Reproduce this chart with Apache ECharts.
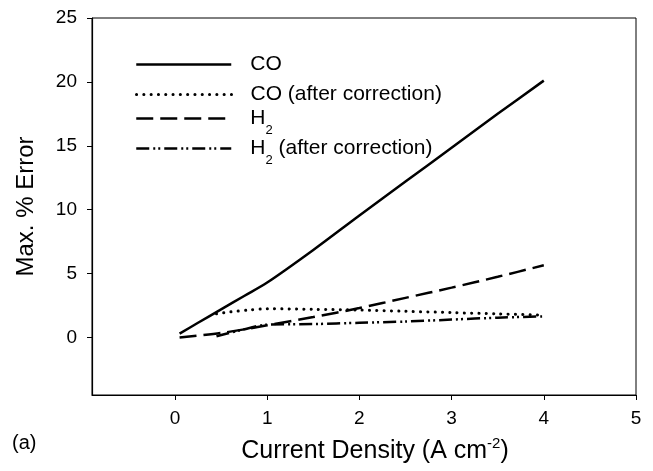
<!DOCTYPE html>
<html>
<head>
<meta charset="utf-8">
<script src="https://cdn.jsdelivr.net/npm/echarts@6/dist/echarts.min.js"></script>
<style>
  html, body { margin: 0; padding: 0; background: #fff; }
  #chart { width: 653px; height: 471px; }
</style>
</head>
<body>
<div id="chart"></div>
<script>
// Current density (A cm^-2) and maximum percentage error for each gas
const xCO = [0.05, 0.25, 0.5, 0.75, 1.0, 1.5, 2.0, 2.5, 3.0, 3.5, 4.0];
const yCO = [0.3, 1.15, 2.2, 3.25, 4.3, 6.85, 9.55, 12.2, 14.85, 17.5, 20.1];

const xCOcorr = [0.45, 0.6, 0.8, 1.0, 1.5, 2.0, 2.5, 3.0, 3.5, 4.0];
const yCOcorr = [1.85, 2.0, 2.15, 2.25, 2.2, 2.15, 2.05, 1.95, 1.85, 1.75];

const xH2 = [0.05, 0.5, 1.0, 1.5, 2.0, 2.5, 3.0, 3.5, 4.0];
const yH2 = [0.0, 0.35, 0.95, 1.6, 2.3, 3.1, 3.9, 4.75, 5.65];

const xH2corr = [0.45, 0.7, 1.0, 1.5, 2.0, 2.5, 3.0, 3.5, 4.0];
const yH2corr = [0.1, 0.55, 1.0, 1.05, 1.15, 1.25, 1.4, 1.55, 1.65];

const xTicks = [0, 1, 2, 3, 4, 5];
const yTicks = [0, 5, 10, 15, 20, 25];

const seriesNames = ['CO', 'CO (after correction)', 'H2', 'H2 (after correction)'];
const legendLabels = {
  'CO': 'CO',
  'CO (after correction)': 'CO (after correction)',
  'H2': 'H{sub|2}',
  'H2 (after correction)': 'H{sub|2} (after correction)'
};

const FONT = '"Liberation Sans", Arial, Helvetica, sans-serif';
const pairs = (xs, ys) => xs.map((x, i) => [x, ys[i]]);

const styles = [
  { width: 2.5, type: 'solid', cap: 'butt' },
  { width: 3, type: [0.1, 7.2], cap: 'round' },
  { width: 2.5, type: [17, 7], cap: 'butt' },
  { width: 2.5, type: [13, 4, 2, 3, 2, 4], cap: 'butt' }
];
const dataSets = [pairs(xCO, yCO), pairs(xCOcorr, yCOcorr), pairs(xH2, yH2), pairs(xH2corr, yH2corr)];
const legendTops = [54, 84, 100, 130];

const chart = echarts.init(document.getElementById('chart'), null, { renderer: 'canvas' });

chart.setOption({
  animation: false,
  backgroundColor: '#fff',
  textStyle: { fontFamily: FONT },
  grid: {
    left: 92, right: 17, top: 18, bottom: 72,
    show: true, borderColor: '#000', borderWidth: 1, backgroundColor: 'transparent'
  },
  legend: seriesNames.map((name, i) => ({
    data: [name],
    orient: 'vertical',
    left: 135,
    top: legendTops[i],
    itemWidth: 95,
    itemHeight: 16,
    padding: 0,
    selectedMode: false,
    itemStyle: { opacity: 0 },
    lineStyle: { color: '#000', width: styles[i].width, type: styles[i].type, cap: styles[i].cap },
    formatter: n => legendLabels[n],
    textStyle: {
      fontFamily: FONT, fontSize: 21, color: '#000', padding: [0, 0, 0, 14],
      rich: { sub: { fontFamily: FONT, fontSize: 13, lineHeight: 14, padding: [24, 0, 0, 0], color: '#000' } }
    }
  })),
  xAxis: {
    type: 'value', min: -0.9, max: 5,
    name: 'Current Density (A cm{sup|-2})',
    nameLocation: 'middle', nameGap: 41,
    nameTextStyle: {
      fontFamily: FONT, fontSize: 25, color: '#000', lineHeight: 30,
      padding: [0, 0, 0, 22],
      rich: { sup: { fontFamily: FONT, fontSize: 15, lineHeight: 16, color: '#000', verticalAlign: 'top' } }
    },
    axisLine: { show: true, onZero: false, lineStyle: { color: '#000', width: 1.2 } },
    axisTick: { show: true, inside: false, length: 5, customValues: xTicks, lineStyle: { color: '#000' } },
    axisLabel: { customValues: xTicks, margin: 14, fontSize: 19, color: '#000', fontFamily: FONT },
    splitLine: { show: false }
  },
  yAxis: {
    type: 'value', min: -4.5, max: 25,
    name: 'Max. % Error',
    nameLocation: 'middle', nameGap: 54, nameRotate: 90,
    nameTextStyle: { fontFamily: FONT, fontSize: 24, color: '#000' },
    axisLine: { show: true, onZero: false, lineStyle: { color: '#000', width: 1.2 } },
    axisTick: { show: true, inside: false, length: 5, customValues: yTicks, lineStyle: { color: '#000' } },
    axisLabel: { customValues: yTicks, margin: 15, fontSize: 19, color: '#000', fontFamily: FONT },
    splitLine: { show: false }
  },
  graphic: [{
    type: 'text', left: 12, top: 433,
    style: { text: '(a)', fontFamily: FONT, fontSize: 20, fill: '#000' }
  }],
  series: seriesNames.map((name, i) => ({
    name: name,
    type: 'line',
    data: dataSets[i],
    symbol: 'none',
    smooth: 0.3,
    color: '#000',
    lineStyle: { color: '#000', width: styles[i].width, type: styles[i].type, cap: styles[i].cap },
    z: 2 + i
  }))
});
</script>
</body>
</html>
